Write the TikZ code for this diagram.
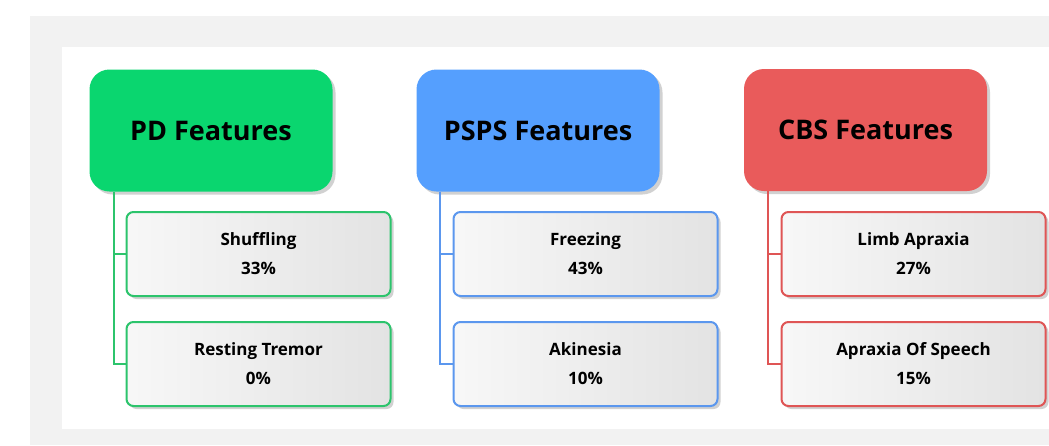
\documentclass[tikz,border=0pt]{standalone}
\usepackage{fontspec}
\setmainfont{Open Sans}
\usepackage{tikz}
\usetikzlibrary{shadows,calc}
\definecolor{pdgreen}{HTML}{0AD66F}
\definecolor{pdline}{HTML}{2CC46C}
\definecolor{pspsblue}{HTML}{559FFE}
\definecolor{pspsline}{HTML}{5B97EE}
\definecolor{cbsred}{HTML}{E95B5B}
\definecolor{cbsline}{HTML}{DF5555}
\tikzset{
    header/.style={
        rectangle,
        rounded corners=20pt,
        minimum width=243pt,
        minimum height=122pt,
        inner sep=0pt,
        font=\fontsize{27}{32}\selectfont\bfseries,
        drop shadow={shadow xshift=3pt, shadow yshift=-3pt, fill=black, opacity=0.18},
    },
    feature/.style={
        rectangle,
        rounded corners=7pt,
        line width=2pt,
        minimum width=264pt,
        minimum height=84pt,
        inner sep=0pt,
        align=center,
        left color=gray!6,
        right color=gray!22,
        font=\fontsize{17}{29}\selectfont\bfseries,
        drop shadow={shadow xshift=3pt, shadow yshift=-3pt, fill=black, opacity=0.18},
    },
    branch/.style={
        draw,
        line width=2pt,
    },
}

\begin{document}
\begin{tikzpicture}[x=1pt,y=-1pt]
    \useasboundingbox (0,0) rectangle (1049,445);
    \fill[gray!10] (30,16) rectangle (1049,445);
    \fill[white] (62,47) rectangle (1049,429);

    \node [header,fill=pdgreen] (PD) at (211,130.5) {PD Features};
    \node [header,fill=pspsblue] (PSPS) at (538,130.5) {PSPS Features};
    \node [header,fill=cbsred] (CBS) at (865.5,130) {CBS Features};

    \draw [branch,pdline] ([xshift=25pt]PD.south west) coordinate (PDroot) |- (258.5,363.5);
    \draw [branch,pspsline] ([xshift=24pt]PSPS.south west) coordinate (PSPSroot) |- (585.5,363.5);
    \draw [branch,cbsline] ([xshift=24pt]CBS.south west) coordinate (CBSroot) |- (913.5,363.5);

    \node [feature,draw=pdline] (PD1) at (258.5,254) {Shuffling\\33\%};
    \node [feature,draw=pdline] (PD2) at (258.5,364) {Resting Tremor\\0\%};
    \node [feature,draw=pspsline] (PSPS1) at (585.5,254) {Freezing\\43\%};
    \node [feature,draw=pspsline] (PSPS2) at (585.5,364) {Akinesia\\10\%};
    \node [feature,draw=cbsline] (CBS1) at (913.5,254) {Limb Apraxia\\27\%};
    \node [feature,draw=cbsline] (CBS2) at (913.5,364) {Apraxia Of Speech\\15\%};

    \draw [branch,pdline] (PDroot |- PD1.west) -- (PD1.west);
    \draw [branch,pspsline] (PSPSroot |- PSPS1.west) -- (PSPS1.west);
    \draw [branch,cbsline] (CBSroot |- CBS1.west) -- (CBS1.west);
\end{tikzpicture}
\end{document}
